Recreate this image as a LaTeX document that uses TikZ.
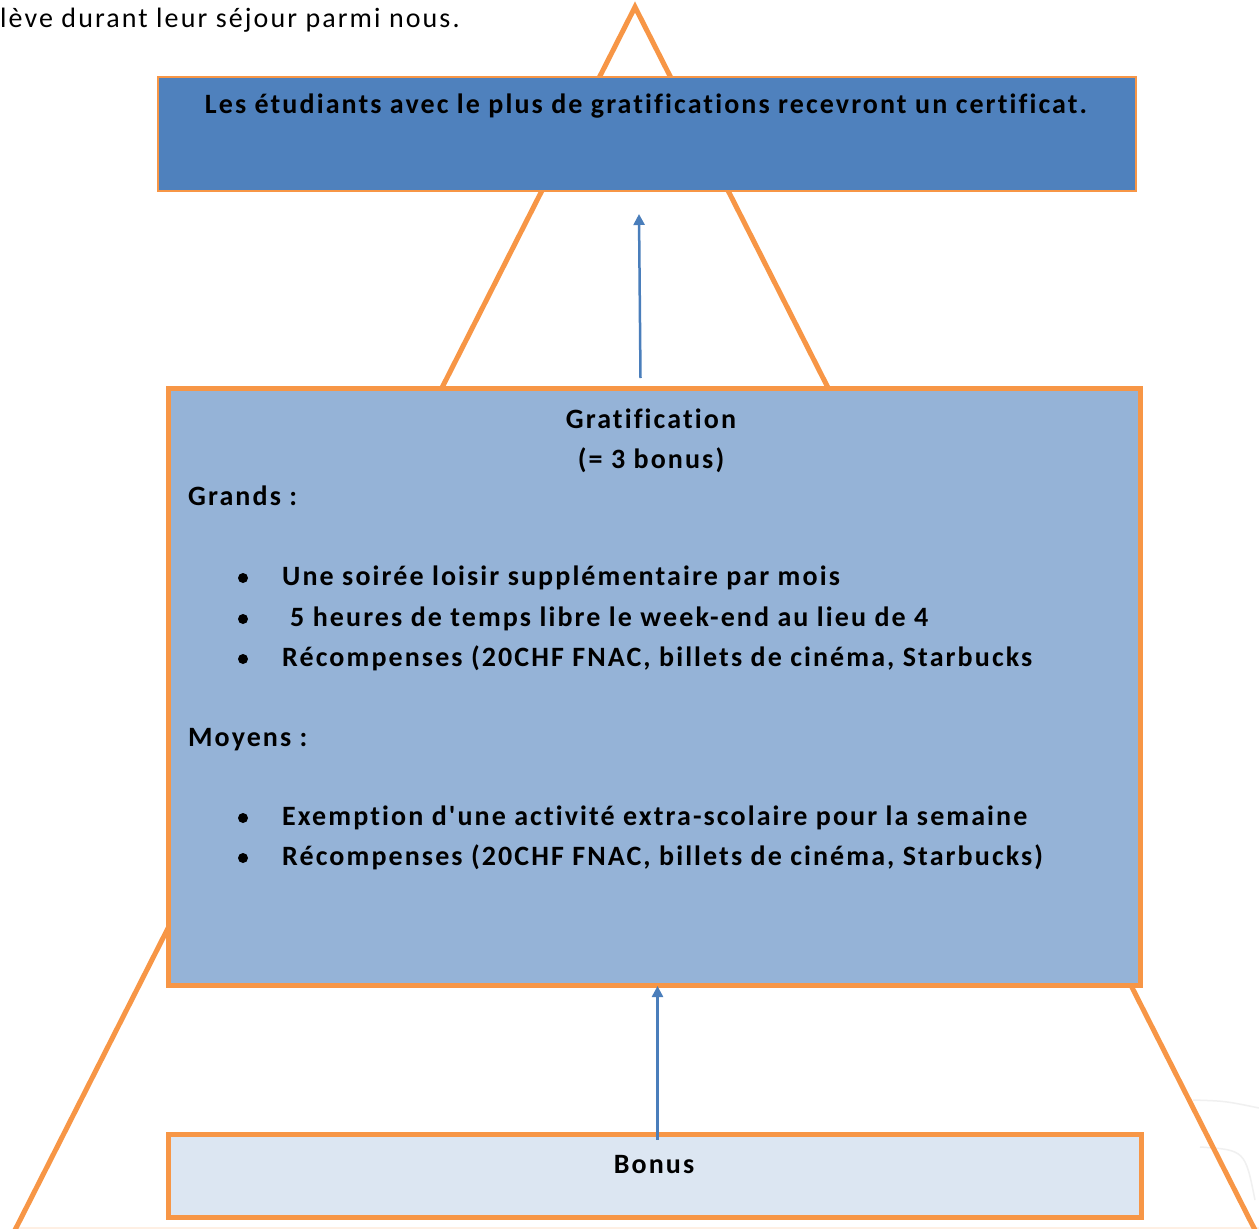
\documentclass[tikz,border=0pt]{standalone}
\usepackage{fontspec}
\setmainfont{Carlito}[Ligatures={TeXOff,CommonOff},LetterSpace=7.5]
\usetikzlibrary{arrows.meta,calc}
\definecolor{orng}{HTML}{F79646}
\definecolor{topfill}{HTML}{4F81BD}
\definecolor{midfill}{HTML}{95B3D7}
\definecolor{botfill}{HTML}{DCE6F2}
\definecolor{arrcol}{HTML}{4A7EBB}
\begin{document}
\begin{tikzpicture}[x=1pt,y=-1pt,
  txt/.style={font=\fontsize{28}{33}\selectfont\bfseries, inner sep=0pt, text=black},
  plain/.style={font=\fontsize{28}{33}\selectfont, inner sep=0pt, text=black},
  boxstyle/.style={rectangle, draw=orng, anchor=north west, inner sep=0pt},
  bul/.style={circle, fill=black, minimum size=10pt, inner sep=0pt},
  arr/.style={draw=arrcol, line width=2.5pt, -{Triangle[length=11pt,width=11pt]}}]
\useasboundingbox (0,0) rectangle (1259,1229);
\fill[white] (0,0) rectangle (1259,1229);
% faint background marks
\draw[gray!12, line width=1.5pt] (1193,1100) .. controls (1225,1101) .. (1259,1108);
\draw[gray!12, line width=1.5pt] (1200,1147) .. controls (1245,1150) .. (1255,1200);
\draw[orng!15, line width=2pt] (15,1228) -- (1259,1228);
% triangle
\coordinate (apex) at (635,7);
\coordinate (bl) at (14,1232);
\coordinate (br) at (1256,1232);
\draw[orng, line width=5pt, line join=miter] (bl) -- (apex) -- (br);
% header text
\node[plain, anchor=base west] (hdr) at (0,27) {lève durant leur séjour parmi nous.};
% boxes
\node[boxstyle, fill=topfill, line width=2pt, minimum width=978pt, minimum height=114pt] (top) at (157,76) {};
\node[boxstyle, fill=midfill, line width=5pt, minimum width=972pt, minimum height=597pt] (mid) at (165.5,386) {};
\node[boxstyle, fill=botfill, line width=5pt, minimum width=973pt, minimum height=83pt] (bot) at (165.5,1131.5) {};
% texts
\node[txt, anchor=base] (t1) at (646,113) {Les étudiants avec le plus de gratifications recevront un certificat.};
\node[txt, anchor=base] (g1) at (651,428) {Gratification};
\node[txt, anchor=base] (g2) at (651,468) {(= 3 bonus)};
\node[txt, anchor=base west] (gr) at (188,505) {Grands :};
\node[txt, anchor=base west] (l1) at (282,585) {Une soirée loisir supplémentaire par mois};
\node[txt, anchor=base west] (l2) at (290,626) {5 heures de temps libre le week-end au lieu de 4};
\node[txt, anchor=base west] (l3) at (282,666) {Récompenses (20CHF FNAC, billets de cinéma, Starbucks};
\node[txt, anchor=base west] (mo) at (188,746) {Moyens :};
\node[txt, anchor=base west] (l4) at (282,825) {Exemption d'une activité extra-scolaire pour la semaine};
\node[txt, anchor=base west] (l5) at (282,865) {Récompenses (20CHF FNAC, billets de cinéma, Starbucks)};
\node[txt, anchor=base] (bo) at (654,1173) {Bonus};
\node[bul] (b1) at (243,578) {};
\node[bul] (b2) at (243,619) {};
\node[bul] (b3) at (243,659) {};
\node[bul] (b4) at (243,818) {};
\node[bul] (b5) at (243,858) {};
% arrows
\draw[arr] ([xshift=-13.5pt,yshift=8pt]mid.north) -- ([xshift=-8pt,yshift=-22pt]top.south);
\draw[arr] ([xshift=3pt,yshift=-8pt]bot.north) -- ([xshift=3.5pt,yshift=2pt]mid.south);
\end{tikzpicture}
\end{document}
